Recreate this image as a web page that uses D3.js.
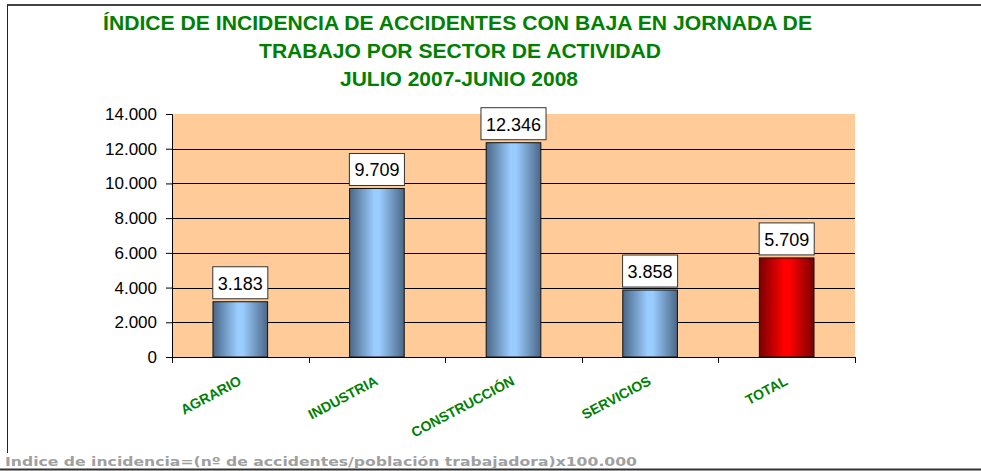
<!DOCTYPE html>
<html lang="es">
<head>
<meta charset="UTF-8">
<title>Índice de incidencia</title>
<style>
  body { margin: 0; background: #fff; }
  svg { display: block; font-family: "Liberation Sans", Arial, sans-serif; }
</style>
<script src="https://cdn.jsdelivr.net/npm/d3@7"></script>
</head>
<body>
<div id="graphic"></div>
<script>
// data
var categories = ['AGRARIO', 'INDUSTRIA', 'CONSTRUCCIÓN', 'SERVICIOS', 'TOTAL'];
var values = [3183, 9709, 12346, 3858, 5709];
var yTicks = [0, 2000, 4000, 6000, 8000, 10000, 12000, 14000];
var titleLines = [
    'ÍNDICE DE INCIDENCIA DE ACCIDENTES CON BAJA EN JORNADA DE',
    'TRABAJO POR SECTOR DE ACTIVIDAD',
    'JULIO 2007-JUNIO 2008'
];
var footnote = 'Indice de incidencia=(nº de accidentes/población trabajadora)x100.000';

var width = 981, height = 471;
var margin = { left: 172, right: 126, top: 114, bottom: 114 };
var plotW = width - margin.left - margin.right;
var plotH = height - margin.top - margin.bottom;

var fmt = function (v) { return d3.format(',')(v).replace(/,/g, '.'); };

var svg = d3.select('#graphic').append('svg')
    .attr('width', width).attr('height', height);

// gradients for the bars
var defs = svg.append('defs');
function grad(id, edge, mid) {
    var g = defs.append('linearGradient').attr('id', id)
        .attr('x1', '0%').attr('x2', '100%').attr('y1', '0%').attr('y2', '0%');
    g.append('stop').attr('offset', '0%').attr('stop-color', edge);
    g.append('stop').attr('offset', '45%').attr('stop-color', mid);
    g.append('stop').attr('offset', '55%').attr('stop-color', mid);
    g.append('stop').attr('offset', '100%').attr('stop-color', edge);
}
grad('gBlue', '#4b6786', '#99ccff');
grad('gRed', '#7a0000', '#ff0000');

// outer frame
svg.append('line').attr('x1', 7).attr('x2', width).attr('y1', 5).attr('y2', 5)
    .attr('stroke', '#444').attr('stroke-width', 2);
svg.append('line').attr('x1', 7.5).attr('x2', 7.5).attr('y1', 5).attr('y2', 453)
    .attr('stroke', '#222').attr('stroke-width', 1);
svg.append('line').attr('x1', 0).attr('x2', width).attr('y1', 469.5).attr('y2', 469.5)
    .attr('stroke', '#333').attr('stroke-width', 2);

// title
var titleX = [[103, 812], [259, 661], [340, 578]];
var titleY = [30, 58, 86];
svg.append('g').selectAll('text')
    .data(titleLines)
    .join('text')
    .attr('x', function (d, i) { return titleX[i][0]; })
    .attr('y', function (d, i) { return titleY[i]; })
    .attr('textLength', function (d, i) { return titleX[i][1] - titleX[i][0]; })
    .attr('lengthAdjust', 'spacingAndGlyphs')
    .attr('fill', '#008000')
    .attr('font-weight', 'bold')
    .attr('font-size', 21)
    .text(function (d) { return d; });

var x = d3.scaleBand().domain(categories).range([0, plotW]).paddingInner(0.6).paddingOuter(0.3);
var y = d3.scaleLinear().domain([0, 14000]).range([plotH, 0]);

var g = svg.append('g').attr('transform', 'translate(' + margin.left + ',' + margin.top + ')');

g.append('rect').attr('width', plotW).attr('height', plotH).attr('fill', '#ffcc99');

// gridlines
g.append('g').selectAll('line')
    .data(yTicks.filter(function (t) { return t > 0 && t < 14000; }))
    .join('line')
    .attr('x1', 0).attr('x2', plotW)
    .attr('y1', function (d) { return Math.round(y(d)) + 0.5; })
    .attr('y2', function (d) { return Math.round(y(d)) + 0.5; })
    .attr('stroke', '#000').attr('stroke-width', 1);

// y axis
var yAxis = g.append('g')
    .call(d3.axisLeft(y).tickValues(yTicks).tickFormat(fmt).tickSize(6).tickPadding(9));
yAxis.select('.domain').attr('stroke', '#000');
yAxis.selectAll('text').attr('font-size', 17).attr('fill', '#000')
    .attr('font-family', '"Liberation Sans", Arial, sans-serif');

// bars
var step = plotW / categories.length;
g.append('g').selectAll('rect')
    .data(values)
    .join('rect')
    .attr('x', function (d, i) { return x(categories[i]); })
    .attr('y', function (d) { return y(d); })
    .attr('width', x.bandwidth())
    .attr('height', function (d) { return plotH - y(d); })
    .attr('fill', function (d, i) { return categories[i] === 'TOTAL' ? 'url(#gRed)' : 'url(#gBlue)'; })
    .attr('stroke', '#111').attr('stroke-width', 1);

// x axis
g.append('line').attr('x1', 0).attr('x2', plotW).attr('y1', plotH + 0.5).attr('y2', plotH + 0.5)
    .attr('stroke', '#000');
g.append('g').selectAll('line')
    .data(d3.range(categories.length + 1))
    .join('line')
    .attr('x1', function (i) { return Math.round(i * step) + 0.5; })
    .attr('x2', function (i) { return Math.round(i * step) + 0.5; })
    .attr('y1', plotH).attr('y2', plotH + 6)
    .attr('stroke', '#000');

// category labels
g.append('g').selectAll('text')
    .data(categories)
    .join('text')
    .attr('transform', function (d) {
        return 'translate(' + (x(d) + x.bandwidth() / 2 + 2) + ',' + (plotH + 27) + ') rotate(-28)';
    })
    .attr('text-anchor', 'end')
    .attr('fill', '#008000')
    .attr('font-weight', 'bold')
    .attr('font-size', 14)
    .text(function (d) { return d; });

// value labels
var labels = g.append('g').selectAll('g')
    .data(values)
    .join('g')
    .attr('transform', function (d, i) {
        return 'translate(' + (x(categories[i]) + x.bandwidth() / 2) + ',' + (y(d) - 3) + ')';
    });
labels.append('text')
    .attr('y', -9)
    .attr('text-anchor', 'middle')
    .attr('font-size', 18)
    .attr('fill', '#000')
    .text(fmt);
labels.each(function () {
    var t = d3.select(this).select('text');
    var w = t.node().getComputedTextLength() + 10;
    d3.select(this).insert('rect', 'text')
        .attr('x', -w / 2).attr('y', -32).attr('width', w).attr('height', 32)
        .attr('fill', '#fff').attr('stroke', '#333').attr('stroke-width', 1);
});

// footnote
svg.append('text')
    .attr('x', 5).attr('y', 466)
    .attr('textLength', 632).attr('lengthAdjust', 'spacingAndGlyphs')
    .attr('font-family', '"DejaVu Sans", Verdana, sans-serif')
    .attr('font-weight', 'bold')
    .attr('font-size', 13)
    .attr('fill', '#a0a0a0')
    .text(footnote);
</script>
</body>
</html>
